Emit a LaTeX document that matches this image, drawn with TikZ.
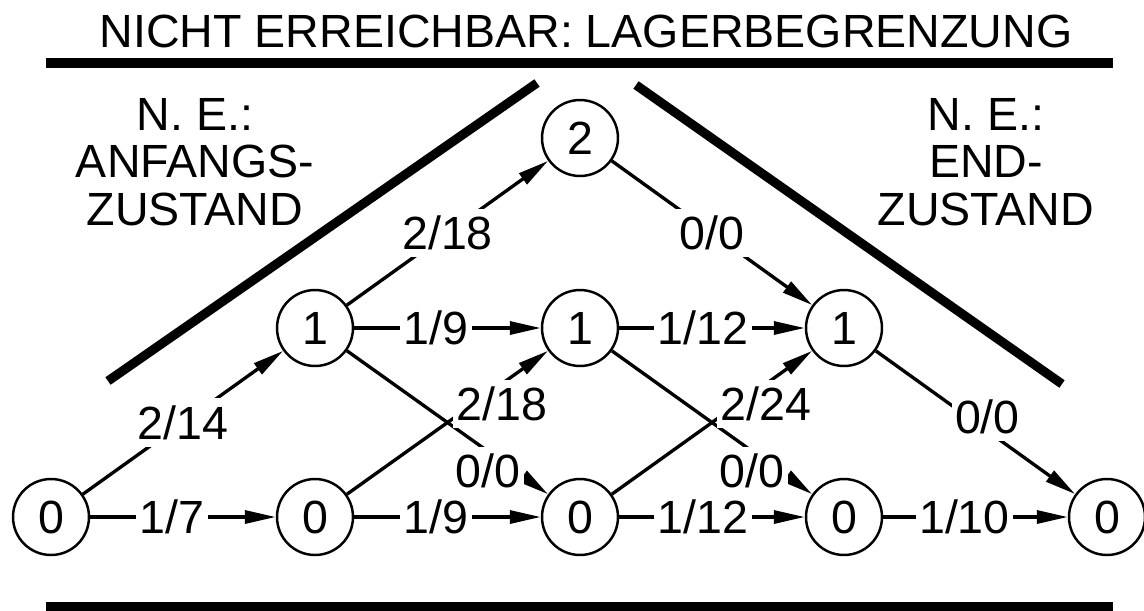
\documentclass[tikz,border=0pt]{standalone}
\usepackage{fontspec}
\setmainfont{Liberation Sans}
\usetikzlibrary{arrows.meta}

\begin{document}
\begin{tikzpicture}[
    x=0.02cm, y=-0.02cm,
    every node/.style={font=\fontsize{26.5}{27}\selectfont},
    state/.style={draw, circle, line width=1.4pt, minimum size=1.52cm, inner sep=0pt},
    arrow/.style={-{Triangle[length=0.62cm, width=0.26cm]}, line width=1.9pt},
    cost/.style={fill=white, inner xsep=2pt, inner ysep=4pt},
    bound/.style={line width=5.2pt},
    note/.style={align=center, anchor=north, inner sep=0pt}
]
\useasboundingbox (0,0) rectangle (1144,610);

% Boundaries
\node[anchor=base] (title) at (586,47) {NICHT ERREICHBAR: LAGERBEGRENZUNG};
\draw[bound] (46,63) -- (1113,63);
\draw[bound] (46,607) -- (1113,607);
\draw[bound] (108,381) -- (537,83);
\draw[bound] (636,85) -- (1062,384);
\node[note] (start) at (195,98) {N. E.:\\ANFANGS-\\ZUSTAND};
\node[note] (end) at (986,98) {N. E.:\\END-\\ZUSTAND};

% States
\node[state] (s0a) at (51,517) {0};
\node[state] (s0b) at (315,517) {0};
\node[state] (s0c) at (580,517) {0};
\node[state] (s0d) at (844,517) {0};
\node[state] (s0e) at (1107,517) {0};
\node[state] (s1b) at (315,328) {1};
\node[state] (s1c) at (580,328) {1};
\node[state] (s1d) at (844,328) {1};
\node[state] (s2c) at (580,138) {2};

% Transitions
\draw[arrow] (s0a) -- node[cost, pos=0.44] {1/7} (s0b);
\draw[arrow] (s0b) -- node[cost, pos=0.44] {1/9} (s0c);
\draw[arrow] (s0c) -- node[cost, pos=0.45] {1/12} (s0d);
\draw[arrow] (s0d) -- node[cost, pos=0.44] {1/10} (s0e);
\draw[arrow] (s1b) -- node[cost, pos=0.44] {1/9} (s1c);
\draw[arrow] (s1c) -- node[cost, pos=0.45] {1/12} (s1d);
\draw[arrow] (s0a) -- node[cost] {2/14} (s1b);
\draw[arrow] (s1b) -- node[cost] {2/18} (s2c);
\draw[arrow] (s2c) -- node[cost] {0/0} (s1d);
\draw[arrow] (s1b) -- node[cost, pos=0.7, yshift=-0.39cm] {0/0} (s0c);
\draw[arrow] (s1c) -- node[cost, pos=0.7, yshift=-0.39cm] {0/0} (s0d);
\draw[arrow] (s0b) -- node[cost, pos=0.77, yshift=-0.4cm] {2/18} (s1c);
\draw[arrow] (s0c) -- node[cost, pos=0.77, yshift=-0.4cm] {2/24} (s1d);
\draw[arrow] (s1d) -- node[cost, pos=0.56, yshift=0.28cm] {0/0} (s0e);

\end{tikzpicture}
\end{document}
